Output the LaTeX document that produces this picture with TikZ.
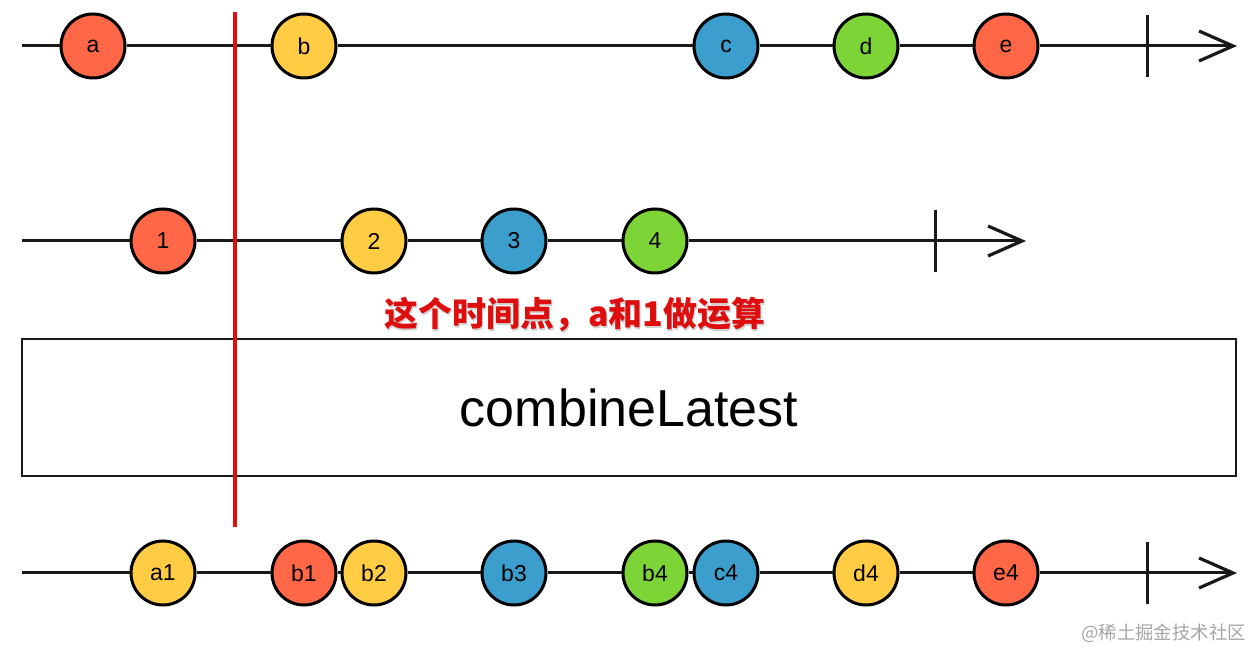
\documentclass[tikz,border=0pt]{standalone}
\usepackage{fontspec}
\setmainfont{Liberation Sans}
\newfontfamily\cjk{Noto Sans CJK SC}
\usetikzlibrary{arrows.meta}

\definecolor{marbleRed}{RGB}{255,103,71}
\definecolor{marbleYellow}{RGB}{255,204,68}
\definecolor{marbleBlue}{RGB}{60,158,204}
\definecolor{marbleGreen}{RGB}{124,212,55}
\definecolor{markRed}{RGB}{222,14,14}

\begin{document}
\begin{tikzpicture}[x=0.5pt, y=-0.5pt,
        marble/.style={circle, draw=black, line width=1.5pt, minimum size=32pt, inner sep=0pt, font=\fontsize{11.5}{11.5}\selectfont},
        timeline/.style={line width=1.5pt, black!90},
        endline/.style={timeline, -{Straight Barb[length=17pt, width=15pt, line width=1.6pt]}},
        tickmark/.style={line width=1.5pt, black!90},
        ]
            \useasboundingbox (0,0) rectangle (1258,651);

            % first source stream
            \coordinate (s1) at (22,46);
            \coordinate (e1) at (1237,46);
            \node[marble, fill=marbleRed]     at (93,46)   (a) {a};
            \node[marble, fill=marbleYellow]  at (304,46)  (b) {b};
            \node[marble, fill=marbleBlue]    at (726,46)  (c) {c};
            \node[marble, fill=marbleGreen]   at (866,46)  (d) {d};
            \node[marble, fill=marbleRed]     at (1006,46) (e) {e};
            \draw[endline] (s1) -- (a) -- (b) -- (c) -- (d) -- (e) -- (e1);
            \draw[tickmark] (1147,15) -- (1147,77);

            % second source stream
            \coordinate (s2) at (22,241);
            \coordinate (e2) at (1026,241);
            \node[marble, fill=marbleRed]     at (163,241) (n1) {1};
            \node[marble, fill=marbleYellow]  at (374,241) (n2) {2};
            \node[marble, fill=marbleBlue]    at (514,241) (n3) {3};
            \node[marble, fill=marbleGreen]   at (655,241) (n4) {4};
            \draw[endline] (s2) -- (n1) -- (n2) -- (n3) -- (n4) -- (e2);
            \draw[tickmark] (935,210) -- (935,272);

            % operator box
            \node[draw=black!90, line width=1.4pt, minimum width=607pt, minimum height=68.5pt, inner sep=0pt,
                  font=\fontsize{26}{26}\selectfont] at (629,407.5) (op) {combineLatest};

            % result stream
            \coordinate (s3) at (22,573);
            \coordinate (e3) at (1237,573);
            \node[marble, fill=marbleYellow]  at (163,573)  (a1) {a1};
            \node[marble, fill=marbleRed]     at (304,573)  (b1) {b1};
            \node[marble, fill=marbleYellow]  at (374,573)  (b2) {b2};
            \node[marble, fill=marbleBlue]    at (514,573)  (b3) {b3};
            \node[marble, fill=marbleGreen]   at (655,573)  (b4) {b4};
            \node[marble, fill=marbleBlue]    at (726,573)  (c4) {c4};
            \node[marble, fill=marbleYellow]  at (866,573)  (d4) {d4};
            \node[marble, fill=marbleRed]     at (1006,573) (e4) {e4};
            \draw[endline] (s3) -- (a1) -- (b1) -- (b2) -- (b3) -- (b4) -- (c4) -- (d4) -- (e4) -- (e3);
            \draw[tickmark] (1147,542) -- (1147,604);

            % time marker
            \coordinate (m1) at (235,12);
            \coordinate (m2) at (235,527);
            \draw[markRed, line width=2pt] (m1) -- (m2);
            \node[text=black!18, font=\cjk\bfseries\fontsize{17}{17}\selectfont] at (576,316) (noteshadow) {这个时间点，a和1做运算};
            \node[text=markRed, font=\cjk\bfseries\fontsize{17}{17}\selectfont] at (575,314) (note) {这个时间点，a和1做运算};

            % watermark
            \node[text=black!35, font=\cjk\fontsize{9.2}{9.2}\selectfont, anchor=east] at (1253,633) (wm) {@稀土掘金技术社区};
            \end{tikzpicture}
\end{document}
